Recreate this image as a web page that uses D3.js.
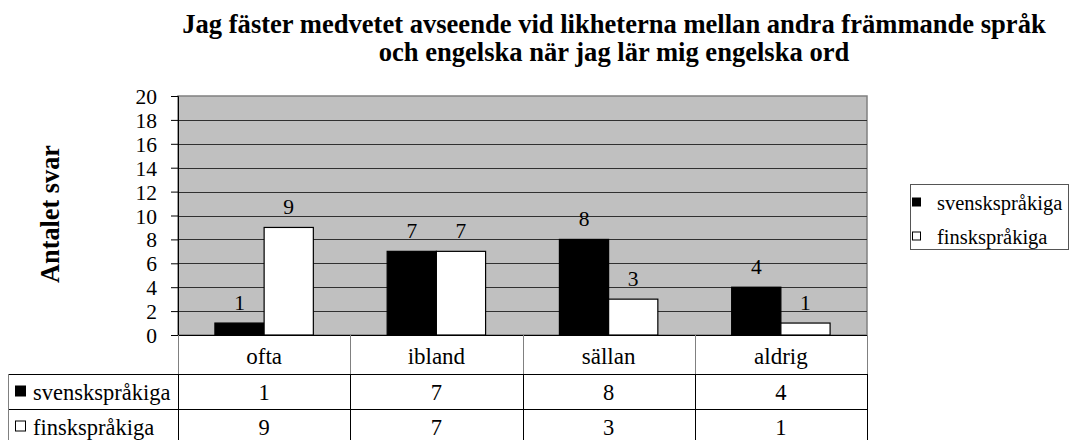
<!DOCTYPE html>
<html>
<head>
<meta charset="utf-8">
<script src="https://cdn.jsdelivr.net/npm/d3@7"></script>
<style>
  body { margin: 0; background: #fff; }
  svg, svg text { font-family: "Liberation Serif", "Times New Roman", serif !important; fill: #000; }
</style>
</head>
<body>
<script>
const categories = ["ofta", "ibland", "sällan", "aldrig"];
const seriesNames = ["svenskspråkiga", "finskspråkiga"];
const svenskValues = [1, 7, 8, 4];
const finskValues = [9, 7, 3, 1];
const yTicks = [0, 2, 4, 6, 8, 10, 12, 14, 16, 18, 20];
const titleLines = [
    "Jag fäster medvetet avseende vid likheterna mellan andra främmande språk",
    "och engelska när jag lär mig engelska ord"
];
const yLabel = "Antalet svar";

const fills = ["#000000", "#ffffff"];
const series = [svenskValues, finskValues];

const width = 1070;
const height = 440;
const plot = {left: 178, right: 867, top: 96, bottom: 335};
const rowH = [39, 35, 35];
const tableLeft = 8;
const serif = "Liberation Serif";

const svg = d3.select("body").append("svg")
    .attr("width", width)
    .attr("height", height)
    .style("font-family", serif);

const x = d3.scaleBand()
    .domain(categories)
    .range([plot.left, plot.right]);

const barW = x.bandwidth() / 3.5;
const xInner = d3.scaleBand()
    .domain(seriesNames)
    .range([0, barW * 2]);

const y = d3.scaleLinear()
    .domain([0, 20])
    .range([plot.bottom, plot.top]);

// plot background
svg.append("rect")
    .attr("x", plot.left)
    .attr("y", plot.top)
    .attr("width", plot.right - plot.left)
    .attr("height", plot.bottom - plot.top)
    .style("fill", "#c0c0c0")
    .style("stroke", "#808080")
    .style("stroke-width", 1.5);

// gridlines
svg.append("g")
    .selectAll("line")
    .data(yTicks.filter(d => d > 0 && d < 20))
    .enter().append("line")
    .attr("x1", plot.left)
    .attr("x2", plot.right)
    .attr("y1", d => Math.round(y(d)) + 0.5)
    .attr("y2", d => Math.round(y(d)) + 0.5)
    .style("stroke", "#303030")
    .style("stroke-width", 1);

// y axis
const yAxis = svg.append("g")
    .attr("transform", "translate(" + plot.left + ",0)")
    .call(d3.axisLeft(y).tickValues(yTicks).tickSize(7).tickPadding(14));
yAxis.attr("font-family", serif);
yAxis.select(".domain").style("stroke", "#000");
yAxis.selectAll(".tick line").style("stroke", "#000");
yAxis.selectAll(".tick text")
    .style("font-size", "21.5px")
    .style("font-family", serif)
    .attr("dy", "0.35em");

// bars
const groups = svg.append("g")
    .selectAll("g")
    .data(categories)
    .enter().append("g")
    .attr("transform", d => "translate(" + (x(d) + (x.bandwidth() - barW * 2) / 2) + ",0)");

groups.selectAll("rect")
    .data((d, i) => seriesNames.map((s, j) => ({s: s, j: j, v: series[j][i]})))
    .enter().append("rect")
    .attr("x", d => xInner(d.s))
    .attr("y", d => y(d.v))
    .attr("width", xInner.bandwidth())
    .attr("height", d => y(0) - y(d.v))
    .style("fill", d => fills[d.j])
    .style("stroke", "#000")
    .style("stroke-width", 1.2);

groups.selectAll("text")
    .data((d, i) => seriesNames.map((s, j) => ({s: s, j: j, v: series[j][i]})))
    .enter().append("text")
    .attr("x", d => xInner(d.s) + xInner.bandwidth() / 2)
    .attr("y", d => y(d.v) - 13)
    .attr("text-anchor", "middle")
    .style("font-family", serif)
    .style("font-size", "21.5px")
    .text(d => d.v);

// x axis line
svg.append("line")
    .attr("x1", plot.left - 7)
    .attr("x2", plot.right)
    .attr("y1", plot.bottom + 0.5)
    .attr("y2", plot.bottom + 0.5)
    .style("stroke", "#000");

// data table
const table = svg.append("g");
const row1 = plot.bottom + rowH[0];
const row2 = row1 + rowH[1];
const row3 = row2 + rowH[2];

[[plot.left, row1, "#555"], [tableLeft, row1, "#000"], [tableLeft, row2, "#000"], [tableLeft, row3, "#000"]]
    .forEach(function(h) {
        table.append("line")
            .attr("x1", h[0])
            .attr("x2", plot.right)
            .attr("y1", h[1] + 0.5)
            .attr("y2", h[1] + 0.5)
            .style("stroke", h[2]);
    });

const colEdges = categories.map(c => x(c)).concat([plot.right]);
colEdges.forEach(function(cx) {
    table.append("line")
        .attr("x1", Math.round(cx) + 0.5)
        .attr("x2", Math.round(cx) + 0.5)
        .attr("y1", plot.bottom)
        .attr("y2", row1)
        .style("stroke", "#808080");
    table.append("line")
        .attr("x1", Math.round(cx) + 0.5)
        .attr("x2", Math.round(cx) + 0.5)
        .attr("y1", row1)
        .attr("y2", row3)
        .style("stroke", "#000");
});
table.append("line")
    .attr("x1", tableLeft + 0.5)
    .attr("x2", tableLeft + 0.5)
    .attr("y1", row1)
    .attr("y2", row3)
    .style("stroke", "#808080");

table.selectAll(".cat")
    .data(categories)
    .enter().append("text")
    .attr("class", "cat")
    .attr("x", d => x(d) + x.bandwidth() / 2)
    .attr("y", plot.bottom + rowH[0] / 2 + 1)
    .attr("dy", "0.35em")
    .attr("text-anchor", "middle")
    .style("font-family", serif)
    .style("font-size", "23px")
    .text(d => d);

seriesNames.forEach(function(name, j) {
    const top = j === 0 ? row1 : row2;
    const mid = top + rowH[j + 1] / 2;
    table.append("rect")
        .attr("x", 15.5)
        .attr("y", mid - 5.5)
        .attr("width", 10)
        .attr("height", 10)
        .style("fill", fills[j])
        .style("stroke", "#000");
    table.append("text")
        .attr("x", 33)
        .attr("y", mid)
        .attr("dy", "0.38em")
        .style("font-family", serif)
        .style("font-size", "22.5px")
        .text(name);
    table.selectAll(".v" + j)
        .data(series[j])
        .enter().append("text")
        .attr("class", "v" + j)
        .attr("x", (d, i) => x(categories[i]) + x.bandwidth() / 2)
        .attr("y", mid)
        .attr("dy", "0.38em")
        .attr("text-anchor", "middle")
        .style("font-family", serif)
        .style("font-size", "22.5px")
        .text(d => d);
});

// legend
const legend = svg.append("g").attr("transform", "translate(910,184)");
legend.append("rect")
    .attr("x", 0.5)
    .attr("y", 0.5)
    .attr("width", 158)
    .attr("height", 65)
    .style("fill", "#fff")
    .style("stroke", "#555");
seriesNames.forEach(function(name, j) {
    const cy = 19 + j * 34;
    legend.append("rect")
        .attr("x", 2.5)
        .attr("y", cy - 5)
        .attr("width", 8)
        .attr("height", 8)
        .style("fill", fills[j])
        .style("stroke", "#000");
    legend.append("text")
        .attr("x", 27)
        .attr("y", cy)
        .attr("dy", "0.35em")
        .style("font-family", serif)
        .style("font-size", "20.5px")
        .text(name);
});

// title, sized so the first line spans the same width as the reference
const title = svg.append("g")
    .selectAll("text")
    .data(titleLines)
    .enter().append("text")
    .attr("x", 614)
    .attr("y", (d, i) => 33 + i * 28)
    .attr("text-anchor", "middle")
    .style("font-family", serif)
    .style("font-size", "22px")
    .style("font-weight", "bold")
    .text(d => d);
const tLen = title.node().getComputedTextLength();
title.style("font-size", (22 * 864 / tLen) + "px");

// y label
const yl = svg.append("text")
    .attr("transform", "translate(59,214) rotate(-90)")
    .attr("text-anchor", "middle")
    .style("font-family", serif)
    .style("font-size", "22px")
    .style("font-weight", "bold")
    .text(yLabel);
const yLen = yl.node().getComputedTextLength();
yl.style("font-size", (22 * 138 / yLen) + "px");
</script>
</body>
</html>
